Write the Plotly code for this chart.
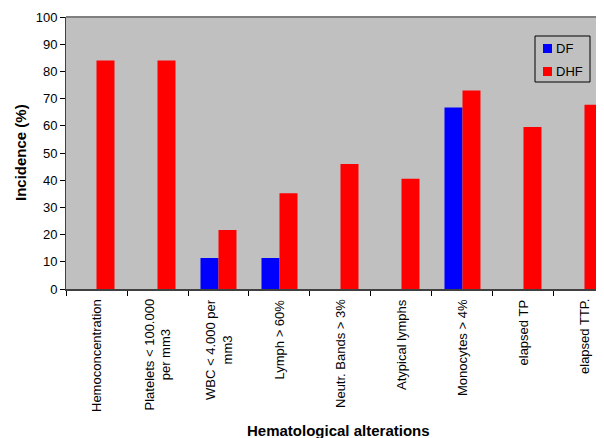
import plotly.graph_objects as go

categories = ["Hemoconcentration", "Platelets < 100.000<br>per mm3", "WBC < 4.000 per<br>mm3",
              "Lymph > 60%", "Neutr. Bands > 3%", "Atypical lymphs", "Monocytes > 4%",
              "elapsed TP", "elapsed TTP."]
series_names = ["DF", "DHF"]
df_values = [0, 0, 11.4, 11.4, 0, 0, 66.7, 0, 0]
dhf_values = [84, 84, 21.7, 35.2, 46, 40.5, 73, 59.6, 67.7]
colors = ["#0000FF", "#FF0000"]

font = "Liberation Sans, Arial, sans-serif"
OFF = 8  # page body margin offset
W, H = 604 - OFF, 438 - OFF
# plot area in screenshot pixels: x 66..604, y 17..289
L, T = 66 - OFF, 17 - OFF
R = 0
B = H - (289 - OFF)
pw, ph = W - L - R, H - T - B

def px_x(x):
    return (x - OFF - L) / pw

def px_y(y):
    return (H - B - (y - OFF)) / ph

fig = go.Figure()
for name, vals, col in zip(series_names, [df_values, dhf_values], colors):
    fig.add_trace(go.Bar(x=categories, y=vals, name=name,
                         marker=dict(color=col, line=dict(width=0))))

fig.update_layout(
    width=W, height=H,
    margin=dict(l=L, r=R, t=T, b=B, autoexpand=False),
    paper_bgcolor="white", plot_bgcolor="#C0C0C0",
    barmode="group", bargap=0.41, bargroupgap=0,
    font=dict(family=font, size=13, color="black"),
    showlegend=False,
)
fig.update_xaxes(
    type="category", range=[-0.5, 8.32], tickson="boundaries",
    ticks="outside", ticklen=5, tickcolor="black", showline=True, linecolor="#404040", linewidth=2,
    showgrid=False, showticklabels=False, automargin=False,
)
fig.update_yaxes(
    range=[0, 100], dtick=10, ticks="outside", ticklen=5, tickcolor="black",
    showline=True, linecolor="#404040", linewidth=1, showgrid=False, zeroline=False,
    tickfont=dict(size=13), automargin=False,
)
# top border
fig.add_shape(type="line", xref="paper", yref="paper", x0=0, x1=1, y0=1, y1=1,
              line=dict(color="#808080", width=2))

# category labels (rotated, centered multi-line)
for c in categories:
    fig.add_annotation(x=c, xref="x", y=0, yref="paper", yshift=-8, text=c,
                       textangle=-90, xanchor="center", yanchor="top", align="center",
                       showarrow=False, font=dict(size=13))

# axis titles
fig.add_annotation(x=px_x(338), y=px_y(430), xref="paper", yref="paper",
                   text="<b>Hematological alterations</b>", showarrow=False,
                   xanchor="center", yanchor="middle", font=dict(size=15))
fig.add_annotation(x=px_x(20), y=px_y(153), xref="paper", yref="paper",
                   text="<b>Incidence (%)</b>", showarrow=False, textangle=-90,
                   xanchor="center", yanchor="middle", font=dict(size=15))

# legend box (shifted slightly left so it stays fully inside the visible page)
LX = 535
fig.add_shape(type="rect", xref="paper", yref="paper",
              x0=px_x(LX), x1=px_x(LX + 55), y0=px_y(36), y1=px_y(82),
              line=dict(color="black", width=1), fillcolor="#C0C0C0")
for i, (name, col) in enumerate(zip(series_names, colors)):
    yc = 48.5 + i * 23
    fig.add_shape(type="rect", xref="paper", yref="paper",
                  x0=px_x(LX + 8), x1=px_x(LX + 17), y0=px_y(yc - 4.5), y1=px_y(yc + 4.5),
                  line=dict(width=0), fillcolor=col)
    fig.add_annotation(x=px_x(LX + 19), y=px_y(yc), xref="paper", yref="paper",
                       text=name, showarrow=False, xanchor="left", yanchor="middle",
                       font=dict(size=13))

fig.write_html("out.html", default_width=f"{W}px", default_height=f"{H}px")
